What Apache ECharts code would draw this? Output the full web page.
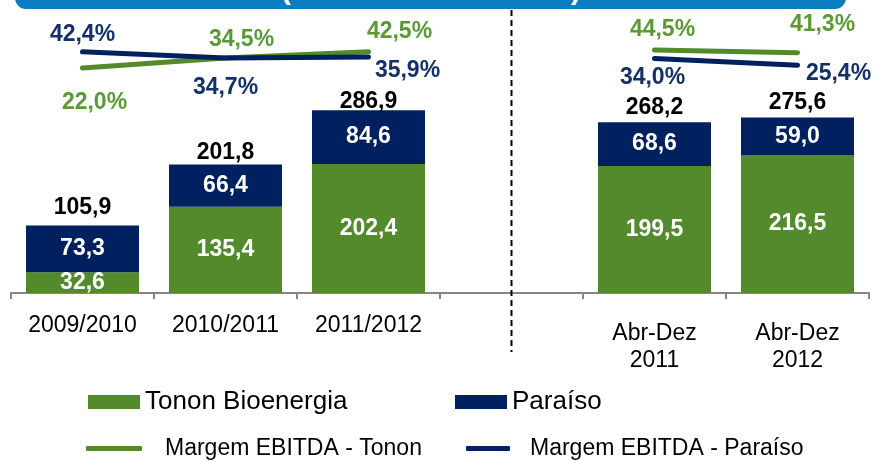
<!DOCTYPE html>
<html>
<head>
<meta charset="utf-8">
<script src="https://cdn.jsdelivr.net/npm/echarts@6/dist/echarts.min.js"></script>
<style>
  html, body { margin: 0; padding: 0; background: #fff; }
  #chart { width: 875px; height: 461px; }
</style>
</head>
<body>
<div id="chart"></div>
<script>
// dados
const categories = ['2009/2010', '2010/2011', '2011/2012', '', 'Abr-Dez\n2011', 'Abr-Dez\n2012'];
const tononValues = [32.6, 135.4, 202.4, null, 199.5, 216.5];
const paraisoValues = [73.3, 66.4, 84.6, null, 68.6, 59.0];
const totalValues = [105.9, 201.8, 286.9, null, 268.2, 275.6];
const margemTonon = [22.0, 34.5, 42.5, null, 44.5, 41.3];
const margemParaiso = [42.4, 34.7, 35.9, null, 34.0, 25.4];

// deslocamento dos rótulos (px), só layout
const offTonon = [[12, 35], [16, -18], [31, -20], null, [8, -20], [25, -28]];
const offParaiso = [[0, -17], [0, 30], [39, 14], null, [-2, 19], [41, 8]];
const offTotal = [-18, -12, -9, null, -15, -15];

const GREEN = '#528a2c';
const NAVY = '#002060';
const FONT = '"Liberation Sans", Arial, sans-serif';

function fmt(v) {
    return v.toFixed(1).replace('.', ',');
}

function pctLabel(color) {
    return {
        show: true, position: 'inside', color: color, fontSize: 23, fontWeight: 'bold',
        fontFamily: FONT, formatter: function (p) { return fmt(p.value) + '%'; }
    };
}

function withOffsets(values, offsets, color) {
    return values.map(function (v, i) {
        if (v == null) return null;
        return { value: v, label: Object.assign(pctLabel(color), { offset: [offsets[i][0], offsets[i][1]] }) };
    });
}

const chart = echarts.init(document.getElementById('chart'));

const option = {
    animation: false,
    textStyle: { fontFamily: FONT },
    grid: { left: 11, right: 6, top: 0, bottom: 168, containLabel: false },
    xAxis: {
        type: 'category',
        data: categories.map(function (c) {
            // rótulos de duas linhas ficam um pouco mais abaixo
            return c.indexOf('\n') >= 0 ? { value: c, textStyle: { padding: [8, 0, 0, 0] } } : c;
        }),
        axisLine: { lineStyle: { color: '#868686', width: 2 } },
        axisTick: { show: true, length: 6, lineStyle: { color: '#868686', width: 2 } },
        axisLabel: { color: '#000', fontSize: 23, fontFamily: FONT, margin: 19, lineHeight: 27, interval: 0 }
    },
    yAxis: [
        { type: 'value', min: 0, max: 460, show: false },
        { type: 'value', min: -261, max: 107.5, show: false }
    ],
    legend: [
        { data: ['Tonon Bioenergia'], left: 83, top: 384, icon: 'rect', itemWidth: 52, itemHeight: 14,
          selectedMode: false, textStyle: { fontSize: 26, color: '#000', fontFamily: FONT } },
        { data: ['Paraíso'], left: 450, top: 384, icon: 'rect', itemWidth: 52, itemHeight: 14,
          selectedMode: false, textStyle: { fontSize: 26, color: '#000', fontFamily: FONT } },
        { data: ['Margem EBITDA - Tonon'], left: 81, top: 432, icon: 'roundRect', itemWidth: 56, itemHeight: 5,
          selectedMode: false, textStyle: { fontSize: 23, color: '#000', fontFamily: FONT, padding: [0, 0, 0, 18] } },
        { data: ['Margem EBITDA - Paraíso'], left: 461, top: 432, icon: 'roundRect', itemWidth: 44, itemHeight: 5,
          selectedMode: false, textStyle: { fontSize: 23, color: '#000', fontFamily: FONT, padding: [0, 0, 0, 15] } }
    ],
    series: [
        {
            name: 'Tonon Bioenergia', type: 'bar', stack: 'receita', barWidth: 113,
            data: tononValues,
            itemStyle: { color: GREEN },
            label: { show: true, position: 'inside', color: '#fff', fontSize: 23, fontWeight: 'bold',
                     fontFamily: FONT, formatter: function (p) { return fmt(p.value); } }
        },
        {
            name: 'Paraíso', type: 'bar', stack: 'receita', barWidth: 113,
            data: paraisoValues,
            itemStyle: { color: NAVY },
            label: { show: true, position: 'inside', color: '#fff', fontSize: 23, fontWeight: 'bold',
                     fontFamily: FONT, formatter: function (p) { return fmt(p.value); } }
        },
        {
            name: 'total', type: 'scatter', symbolSize: 1,
            itemStyle: { color: 'rgba(255,255,255,0)', opacity: 1 },
            data: totalValues.map(function (v, i) {
                if (v == null) return null;
                return {
                    value: v,
                    label: { show: true, position: 'inside', offset: [0, offTotal[i]], color: '#000',
                             fontSize: 23, fontWeight: 'bold', fontFamily: FONT,
                             formatter: function (p) { return fmt(p.value); } }
                };
            }),
            z: 5
        },
        {
            name: 'Margem EBITDA - Tonon', type: 'line', yAxisIndex: 1,
            data: withOffsets(margemTonon, offTonon, '#5a9a34'),
            connectNulls: false, symbol: 'circle', symbolSize: 1, showSymbol: true,
            itemStyle: { color: GREEN },
            lineStyle: { color: GREEN, width: 5, cap: 'round' },
            label: pctLabel('#5a9a34')
        },
        {
            name: 'Margem EBITDA - Paraíso', type: 'line', yAxisIndex: 1,
            data: withOffsets(margemParaiso, offParaiso, '#13306b'),
            connectNulls: false, symbol: 'circle', symbolSize: 1, showSymbol: true,
            itemStyle: { color: NAVY },
            lineStyle: { color: NAVY, width: 5, cap: 'round' },
            label: pctLabel('#13306b')
        }
    ]
};

chart.setOption(option);

// faixa azul do título (cortada no topo) e separador tracejado
const sepX = chart.convertToPixel({ xAxisIndex: 0 }, 3);
chart.setOption({
    graphic: [
        { type: 'rect', shape: { x: 15, y: -22, width: 831, height: 31, r: 11 },
          style: { fill: '#0b7ec1' }, z: 10 },
        { type: 'text', x: 281, y: 6, z: 11,
          style: { text: '(', fill: '#fff', font: 'bold 30px ' + FONT, textVerticalAlign: 'bottom' } },
        { type: 'text', x: 571, y: 6, z: 11,
          style: { text: ')', fill: '#fff', font: 'bold 30px ' + FONT, textVerticalAlign: 'bottom' } },
        { type: 'line', shape: { x1: sepX, y1: 10, x2: sepX, y2: 352 },
          style: { stroke: '#000', lineWidth: 2, lineDash: [6, 4] }, z: 10 }
    ]
});
</script>
</body>
</html>
